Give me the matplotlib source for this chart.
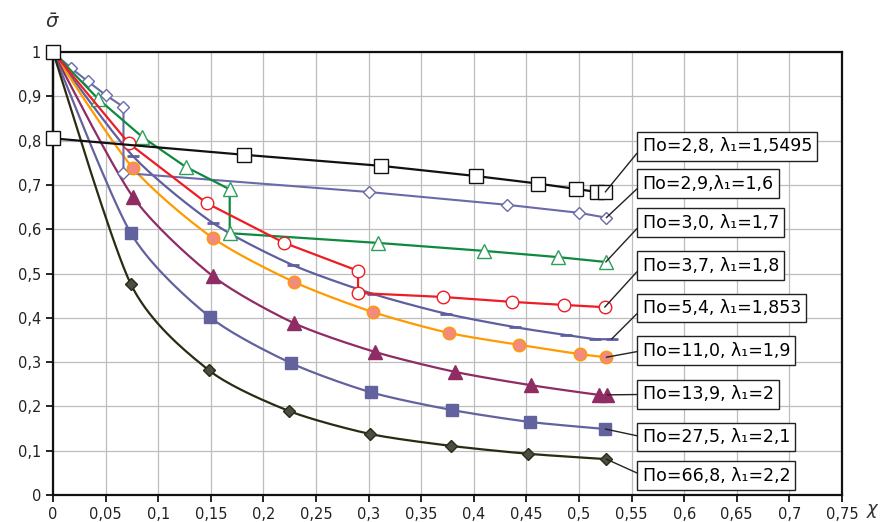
import numpy as np
import matplotlib
matplotlib.use("Agg")
import matplotlib.pyplot as plt

# ---------------- data ----------------
x_po28 = [0, 0, 0.1815, 0.312, 0.402, 0.461, 0.497, 0.517, 0.525]
y_po28 = [1, 0.805, 0.768, 0.743, 0.720, 0.703, 0.691, 0.684, 0.684]

x_po29 = [0, 0.017, 0.033, 0.050, 0.067, 0.067, 0.300, 0.432, 0.500, 0.526]
y_po29 = [1, 0.964, 0.934, 0.903, 0.876, 0.727, 0.684, 0.655, 0.637, 0.626]

x_po30 = [0, 0.043, 0.085, 0.126, 0.168, 0.168, 0.309, 0.410, 0.480, 0.5255]
y_po30 = [1, 0.894, 0.808, 0.741, 0.690, 0.591, 0.569, 0.551, 0.537, 0.526]

x_po37 = [0, 0.072, 0.146, 0.220, 0.290, 0.290, 0.371, 0.436, 0.486, 0.5245]
y_po37 = [1, 0.794, 0.659, 0.569, 0.506, 0.456, 0.447, 0.436, 0.429, 0.424]

x_po54 = [0, 0.076, 0.152, 0.228, 0.304, 0.374, 0.439, 0.488, 0.515, 0.531]
y_po54 = [1, 0.765, 0.614, 0.519, 0.454, 0.409, 0.379, 0.361, 0.352, 0.352]

x_po110 = [0, 0.076, 0.152, 0.229, 0.304, 0.376, 0.443, 0.501, 0.526]
y_po110 = [1, 0.738, 0.580, 0.481, 0.413, 0.366, 0.339, 0.318, 0.311]

x_po139 = [0, 0.076, 0.152, 0.229, 0.306, 0.382, 0.454, 0.519, 0.527]
y_po139 = [1, 0.673, 0.494, 0.388, 0.323, 0.278, 0.248, 0.226, 0.226]

x_po275 = [0, 0.074, 0.149, 0.226, 0.302, 0.379, 0.453, 0.525]
y_po275 = [1, 0.591, 0.402, 0.298, 0.232, 0.192, 0.165, 0.149]

x_po668 = [0, 0.074, 0.148, 0.224, 0.301, 0.378, 0.452, 0.526]
y_po668 = [1, 0.476, 0.282, 0.190, 0.138, 0.111, 0.093, 0.081]

labels = ["По=2,8, λ₁=1,5495",
          "По=2,9,λ₁=1,6",
          "По=3,0, λ₁=1,7",
          "По=3,7, λ₁=1,8",
          "По=5,4, λ₁=1,853",
          "По=11,0, λ₁=1,9",
          "По=13,9, λ₁=2",
          "По=27,5, λ₁=2,1",
          "По=66,8, λ₁=2,2"]

x_ticks = [0, 0.05, 0.1, 0.15, 0.2, 0.25, 0.3, 0.35, 0.4, 0.45, 0.5, 0.55, 0.6, 0.65, 0.7, 0.75]
x_ticklabels = ['0', '0,05', '0,1', '0,15', '0,2', '0,25', '0,3', '0,35', '0,4', '0,45',
                '0,5', '0,55', '0,6', '0,65', '0,7', '0,75']
y_ticks = [0, 0.1, 0.2, 0.3, 0.4, 0.5, 0.6, 0.7, 0.8, 0.9, 1]
y_ticklabels = ['0', '0,1', '0,2', '0,3', '0,4', '0,5', '0,6', '0,7', '0,8', '0,9', '1']


def smooth(xs, ys, n=20, k=8.0):
    # excel-like smoothed line: bezier through the points
    p = np.column_stack([xs, ys]).astype(float)
    out = [p[0]]
    for i in range(len(p) - 1):
        p0 = p[i - 1] if i > 0 else p[i]
        p3 = p[i + 2] if i + 2 < len(p) else p[i + 1]
        c1 = p[i] + (p[i + 1] - p0) / k
        c2 = p[i + 1] - (p3 - p[i]) / k
        t = np.linspace(0, 1, n)[1:, None]
        seg = (1 - t)**3 * p[i] + 3 * (1 - t)**2 * t * c1 + 3 * (1 - t) * t**2 * c2 + t**3 * p[i + 1]
        out.extend(seg)
    out = np.array(out)
    return out[:, 0], out[:, 1]


fig = plt.figure(figsize=(8.83, 5.22), dpi=100)
ax = fig.add_axes([0.0600, 0.0517, 0.8935, 0.8487])

# straight-line series with jumps
ax.plot(x_po29, y_po29, color='#6A6AA8', lw=1.5, marker='D', ms=6.5, mfc='white', mec='#6A6AA8',
        mew=1.0, markevery=list(range(1, len(x_po29))), zorder=4)
ax.plot(x_po30, y_po30, color='#0E8A3E', lw=1.6, marker='^', ms=10, mfc='white', mec='#2E9E5B',
        mew=1.0, markevery=list(range(1, len(x_po30))), zorder=4)
ax.plot(x_po37, y_po37, color='#EE1C24', lw=1.6, marker='o', ms=9, mfc='white', mec='#EE1C24',
        mew=1.0, markevery=list(range(1, len(x_po37))), zorder=4)

# smoothed series
sx, sy = smooth(x_po54, y_po54)
ax.plot(sx, sy, color='#5F5FA0', lw=1.6, zorder=3)
ax.plot(x_po54[1:], y_po54[1:], ls='none', marker='_', ms=9, mew=2, color='#5F5FA0', zorder=3)

sx, sy = smooth(x_po110, y_po110)
ax.plot(sx, sy, color='#FF9A00', lw=1.6, zorder=3)
ax.plot(x_po110[1:], y_po110[1:], ls='none', marker='o', ms=9, mfc='#F28A7E', mec='#FF9A00',
        mew=1.0, zorder=4)

sx, sy = smooth(x_po139, y_po139)
ax.plot(sx, sy, color='#8E2C63', lw=1.6, zorder=3)
ax.plot(x_po139[1:], y_po139[1:], ls='none', marker='^', ms=10, color='#8E2C63', zorder=4)

sx, sy = smooth(x_po275, y_po275)
ax.plot(sx, sy, color='#62629E', lw=1.6, zorder=3)
ax.plot(x_po275[1:], y_po275[1:], ls='none', marker='s', ms=8.5, color='#62629E', zorder=4)

sx, sy = smooth(x_po668, y_po668)
ax.plot(sx, sy, color='#2B2B14', lw=1.6, zorder=3)
ax.plot(x_po668[1:], y_po668[1:], ls='none', marker='D', ms=6.5, mfc='#4D4D45', mec='#2B2B14',
        mew=1.0, zorder=4)

# black series on top
ax.plot(x_po28, y_po28, color='#111111', lw=1.6, marker='s', ms=10, mfc='white', mec='#111111',
        mew=1.0, zorder=6, clip_on=False)

# label boxes with leader lines
ends = [(x_po28[-1], y_po28[-1]), (x_po29[-1], y_po29[-1]), (x_po30[-1], y_po30[-1]),
        (x_po37[-1], y_po37[-1]), (x_po54[-1], y_po54[-1]), (x_po110[-1], y_po110[-1]),
        (x_po139[-1], y_po139[-1]), (x_po275[-1], y_po275[-1]), (x_po668[-1], y_po668[-1])]
box_y = [0.787, 0.703, 0.615, 0.518, 0.422, 0.326, 0.227, 0.131, 0.044]
for (ex, ey), by, lab in zip(ends, box_y, labels):
    ax.annotate(lab, xy=(ex, ey), xytext=(0.5605, by), fontsize=12.5, ha='left', va='center',
                bbox=dict(boxstyle='square,pad=0.3', fc='white', ec='#222222', lw=1.0),
                arrowprops=dict(arrowstyle='-', color='#222222', lw=1.0, shrinkA=0, shrinkB=0,
                                relpos=(0, 0.5)),
                zorder=8)

ax.set_xlim(0, 0.75)
ax.set_ylim(0, 1)
ax.set_xticks(x_ticks)
ax.set_xticklabels(x_ticklabels)
ax.set_yticks(y_ticks)
ax.set_yticklabels(y_ticklabels)
ax.tick_params(labelsize=10.5, labelcolor='#222222', length=5, width=1.2, direction='out')
ax.grid(True, color='#bdbdbd', lw=0.9)
ax.set_axisbelow(True)
for s in ax.spines.values():
    s.set_linewidth(1.6)
    s.set_color('#111111')

fig.text(52 / 883, 1 - 22 / 522, r'$\bar{\sigma}$', fontsize=14, ha='center', va='center', color='#333333')
fig.text(873 / 883, 1 - 511 / 522, r'$\chi$', fontsize=13, ha='center', va='center', color='#333333')

fig.savefig('out.png', dpi=100)
